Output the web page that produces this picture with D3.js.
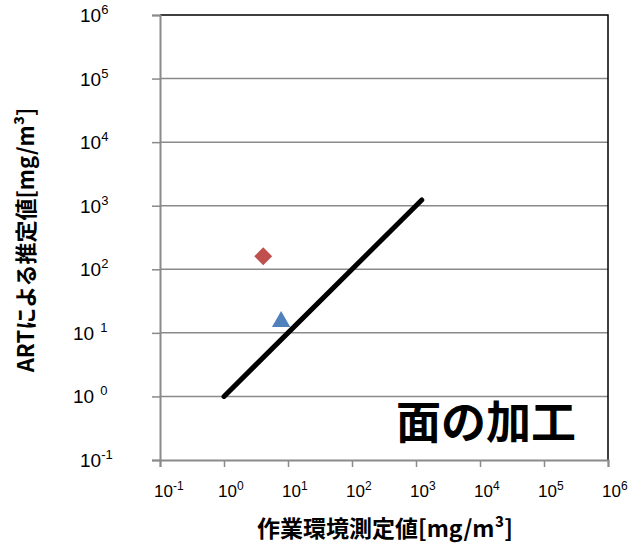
<!DOCTYPE html>
<html>
<head>
<meta charset="utf-8">
<script src="https://cdn.jsdelivr.net/npm/d3@7"></script>
<style>
  body { margin: 0; background: #fff; }
  svg text { font-family: "Liberation Sans", Arial, sans-serif; }
  .jp { font-family: "Noto Sans CJK JP", "Noto Sans", sans-serif; font-weight: bold; }
</style>
</head>
<body>
<div id="vis"></div>
<script>
//tick exponents for both log axes
const exponents = [-1, 0, 1, 2, 3, 4, 5, 6]

//1:1 reference line
const lineX = [1, 1230]
const lineY = [1, 1230]

//measured points
const pointNames = ["diamond", "triangle"]
const pointX = [4.1, 7.8]
const pointY = [160, 15]
const pointColors = ["#C0504D", "#4F81BD"]

const xTitle = "作業環境測定値[mg/m³]"
const yTitle = "ARTによる推定値[mg/m³]"
const note = "面の加工"

const width = 636
const height = 546
const margin = { left: 160, right: 28, top: 15, bottom: 86 }

const svg = d3.select("#vis")
    .append("svg")
    .attr("width", width)
    .attr("height", height)

const x = d3.scaleLog()
    .domain([0.1, 1e6])
    .range([margin.left, width - margin.right])

const y = d3.scaleLog()
    .domain([0.1, 1e6])
    .range([height - margin.bottom, margin.top])

const ticks = exponents.map(e => Math.pow(10, e))

//horizontal gridlines
svg.append("g")
    .selectAll("line")
    .data(ticks.slice(1, -1))
    .enter()
    .append("line")
    .attr("x1", margin.left)
    .attr("x2", width - margin.right)
    .attr("y1", d => y(d))
    .attr("y2", d => y(d))
    .attr("stroke", "#8a8a8a")
    .attr("stroke-width", 1.5)

//top and right border
svg.append("path")
    .attr("d", `M${margin.left},${y(1e6)}H${x(1e6)}V${y(0.1)}`)
    .attr("fill", "none")
    .attr("stroke", "#000")
    .attr("stroke-width", 1.5)

//axes
svg.append("g")
    .attr("transform", `translate(0,${y(0.1)})`)
    .call(d3.axisBottom(x).tickValues(ticks).tickSize(7).tickFormat(""))
svg.append("g")
    .attr("transform", `translate(${x(0.1)},0)`)
    .call(d3.axisLeft(y).tickValues(ticks).tickSize(8).tickFormat(""))

svg.selectAll(".domain").attr("stroke", "#8a8a8a").attr("stroke-width", 2)
svg.selectAll(".tick line").attr("stroke", "#8a8a8a").attr("stroke-width", 1.5)

//x tick labels
svg.append("g")
    .selectAll("text")
    .data(exponents)
    .enter()
    .append("text")
    .attr("x", d => x(Math.pow(10, d)) - 6)
    .attr("y", y(0.1) + 37)
    .attr("font-size", 17)
    .each(function (d) {
        const t = d3.select(this)
        t.append("tspan").text("10")
        t.append("tspan").attr("dy", -7).attr("font-size", 12).text(d)
    })

//y tick labels
svg.append("g")
    .selectAll("text")
    .data(exponents)
    .enter()
    .append("text")
    .attr("x", d => (d === 0 || d === 1) ? 73 : 80)
    .attr("y", d => y(Math.pow(10, d)) + 7)
    .attr("font-size", 19)
    .each(function (d) {
        const t = d3.select(this)
        t.append("tspan").text("10")
        t.append("tspan")
            .attr("dx", (d === 0 || d === 1) ? 6 : 0)
            .attr("dy", -8).attr("font-size", 13).text(d)
    })

//1:1 line
svg.append("path")
    .datum(lineX.map((v, i) => [v, lineY[i]]))
    .attr("d", d3.line().x(d => x(d[0])).y(d => y(d[1])))
    .attr("stroke", "#000")
    .attr("stroke-width", 5)
    .attr("stroke-linecap", "round")
    .attr("fill", "none")

//points - diamond is a rotated square like excel's marker
const shapes = { diamond: d3.symbolSquare, triangle: d3.symbolTriangle }
const sizes = { diamond: 160, triangle: 145 }
svg.append("g")
    .selectAll("path")
    .data(pointNames)
    .enter()
    .append("path")
    .attr("transform", (d, i) => `translate(${x(pointX[i])},${y(pointY[i])})` + (d === "diamond" ? " rotate(45)" : ""))
    .attr("d", d => d3.symbol().type(shapes[d]).size(sizes[d])())
    .attr("fill", (d, i) => pointColors[i])

//axis titles
svg.append("text")
    .attr("class", "jp")
    .attr("x", 385)
    .attr("y", 537)
    .attr("text-anchor", "middle")
    .attr("font-size", 23)
    .text(xTitle)

svg.append("text")
    .attr("class", "jp")
    .attr("transform", "translate(34,240) rotate(-90)")
    .attr("text-anchor", "middle")
    .attr("font-size", 22)
    .text(yTitle)

//annotation
svg.append("text")
    .attr("class", "jp")
    .attr("x", 486)
    .attr("y", 439)
    .attr("text-anchor", "middle")
    .attr("font-size", 45)
    .text(note)
</script>
</body>
</html>
